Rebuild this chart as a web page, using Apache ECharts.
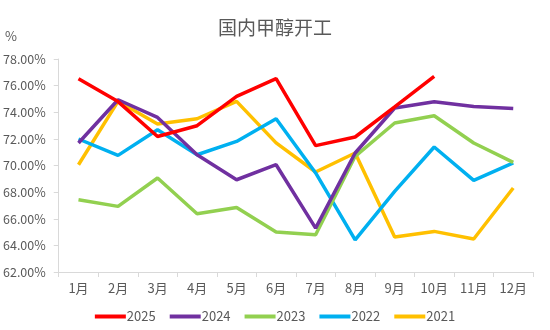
<!DOCTYPE html>
<html><head><meta charset="utf-8">
<script src="https://cdn.jsdelivr.net/npm/echarts@6/dist/echarts.min.js"></script>
<style>html,body{margin:0;padding:0;background:#fff}#c{width:550px;height:330px}</style>
</head><body><div id="c"></div>
<script>
var months = ['1月','2月','3月','4月','5月','6月','7月','8月','9月','10月','11月','12月'];
var s2025 = [76.52, 74.8, 72.18, 72.99, 75.19, 76.52, 71.49, 72.14, 74.4, 76.7];
var s2024 = [71.69, 74.94, 73.61, 70.81, 68.93, 70.06, 65.3, 70.94, 74.32, 74.79, 74.44, 74.29];
var s2023 = [67.43, 66.93, 69.06, 66.38, 66.85, 65.0, 64.8, 70.69, 73.19, 73.74, 71.69, 70.23];
var s2022 = [71.99, 70.76, 72.69, 70.81, 71.81, 73.51, 69.44, 64.42, 68.05, 71.39, 68.88, 70.19];
var s2021 = [70.06, 74.82, 73.12, 73.51, 74.82, 71.7, 69.51, 70.94, 64.63, 65.05, 64.48, 68.31];
var seriesNames = ['2025','2024','2023','2022','2021'];
var colors = ['#FF0000','#7030A0','#92D050','#00B0F0','#FFC000'];
var allData = [s2025, s2024, s2023, s2022, s2021];
var font = '"Noto Sans CJK SC", "Microsoft YaHei", sans-serif';
var chart = echarts.init(document.getElementById('c'));
chart.setOption({
  animation: false,
  color: colors,
  title: {text: '国内甲醇开工', left: 'center', top: 13, textStyle: {fontFamily: font, fontSize: 19, fontWeight: 'normal', color: '#595959'}},
  graphic: [{type: 'text', left: 5, top: 30, style: {text: '%', fontFamily: font, fontSize: 13, fill: '#595959'}}],
  legend: {bottom: 2, left: 'center', itemWidth: 31, itemHeight: 4, itemGap: 14, icon: 'rect',
    textStyle: {fontFamily: font, fontSize: 13, color: '#595959', padding: [0,0,0,-4]},
    data: seriesNames},
  grid: {left: 57, right: 17, top: 59, bottom: 58},
  xAxis: {type: 'category', data: months, boundaryGap: true,
    axisLine: {lineStyle: {color: '#D9D9D9'}},
    axisTick: {show: true, alignWithLabel: false, lineStyle: {color: '#D9D9D9'}},
    axisLabel: {fontFamily: font, fontSize: 13, color: '#595959', margin: 10}},
  yAxis: {type: 'value', min: 62, max: 78, interval: 2,
    axisLine: {show: true, lineStyle: {color: '#D9D9D9'}},
    axisTick: {show: true, inside: false, length: 5, lineStyle: {color: '#D9D9D9'}},
    splitLine: {show: false},
    axisLabel: {fontFamily: font, fontSize: 12.5, color: '#595959', margin: 13, formatter: function(v){return v.toFixed(2)+'%';}}},
  series: allData.map(function(d, i){
    return {name: seriesNames[i], type: 'line', data: d, symbol: 'none', z: 10 - i,
      lineStyle: {width: 3.5, color: colors[i]}, itemStyle: {color: colors[i]}};
  })
});
</script></body></html>
